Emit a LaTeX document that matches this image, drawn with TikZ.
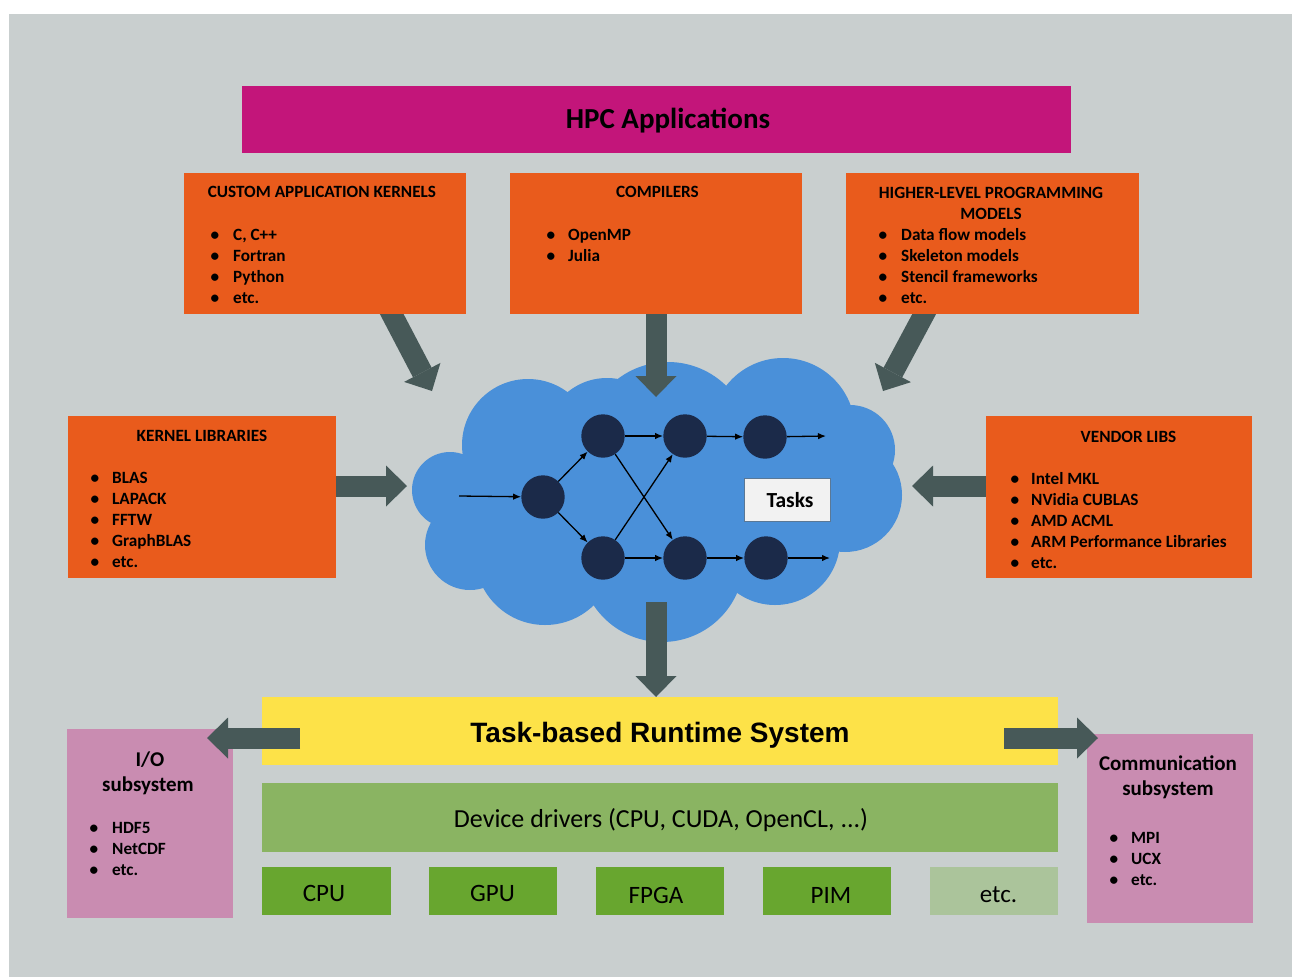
\documentclass[tikz,border=0pt]{standalone}
\usepackage{fontspec}
\setmainfont{Carlito}
\newfontfamily\arialf{Liberation Sans}
\usetikzlibrary{arrows.meta}

\definecolor{bgc}{RGB}{201,207,207}
\definecolor{magc}{RGB}{195,21,122}
\definecolor{orc}{RGB}{233,91,28}
\definecolor{cloudc}{RGB}{74,144,217}
\definecolor{navyc}{RGB}{27,42,73}
\definecolor{arrc}{RGB}{71,89,88}
\definecolor{yelc}{RGB}{253,226,72}
\definecolor{drvc}{RGB}{138,180,98}
\definecolor{hwc}{RGB}{104,166,47}
\definecolor{etcc}{RGB}{171,196,155}
\definecolor{pinkc}{RGB}{201,140,177}
\definecolor{taskbd}{RGB}{90,120,150}

\newcommand{\bitems}[5]{%
  \foreach \t [count=\i from 0] in {#5} {%
    \node[bul] (#1b\i) at (#2, {#4+21*\i}) {\textbullet};
    \node[itm] (#1t\i) at (#3, {#4+21*\i}) {\t};
  }}

\begin{document}
\begin{tikzpicture}[x=1pt,y=-1pt,
  box/.style={anchor=north west, inner sep=0, outer sep=0, draw=none},
  obox/.style={box, fill=orc},
  f17/.style={font=\bfseries\fontsize{17.2}{21}\selectfont},
  hd/.style={anchor=base, inner sep=0, f17},
  bul/.style={anchor=base, inner sep=0, f17},
  itm/.style={anchor=base west, inner sep=0, f17},
  sub/.style={anchor=base, inner sep=0, font=\bfseries\fontsize{21}{25}\selectfont},
  hw/.style={anchor=base, inner sep=0, font=\fontsize{25}{30}\selectfont},
  tnode/.style={circle, fill=navyc, minimum size=43.4, inner sep=0},
  tarrow/.style={draw=black, line width=1.3pt, -{Latex[length=8pt,width=6.5pt]}},
  bigarrow/.style={draw=arrc, line width=21pt, -{Triangle[length=21pt,width=41pt,line width=0pt]}},
]
\useasboundingbox (0,0) rectangle (1292,977);
\fill[bgc] (9,14) rectangle (1292,977);

% cloud (one path, union of puffs)
\fill[cloudc, nonzero rule]
  (450,490) circle (38)
  (528,445) circle (66)
  (607,440) circle (62)
  (668,445) circle (83)
  (783,430) circle (72)
  (850,450) circle (45)
  (845,495) circle (57)
  (775,540) circle (65)
  (662,560) circle (82)
  (545,555) circle (70)
  (470,545) circle (45)
  (505,500) circle (48)
  (650,490) circle (110);

% big arrows into cloud (drawn before boxes)
\coordinate (a1s) at (387,305); \coordinate (a1e) at (432,391);
\coordinate (a3s) at (929,305); \coordinate (a3e) at (883,391);
\coordinate (a2e) at (656,397);
\coordinate (a4s) at (330,486); \coordinate (a4e) at (407,486);
\coordinate (a5s) at (992,486); \coordinate (a5e) at (912,486);
\coordinate (a6s) at (656,602); \coordinate (a6e) at (656,697);
\draw[bigarrow] (a1s) -- (a1e);
\draw[bigarrow] (a3s) -- (a3e);
\draw[bigarrow] (656,305) -- (a2e);
\draw[bigarrow] (a4s) -- (a4e);
\draw[bigarrow] (a5s) -- (a5e);
\draw[bigarrow] (a6s) -- (a6e);

% title
\node[box, fill=magc, minimum width=829, minimum height=67] (hpc) at (242,86) {};
\node[anchor=base, inner sep=0, font=\bfseries\fontsize{29}{34}\selectfont] (hpct) at (668,128) {HPC Applications};

% orange boxes
\node[obox, minimum width=282, minimum height=141] (cak) at (184,173) {};
\node[hd] (cakh) at (322,197.5) {CUSTOM APPLICATION KERNELS};
\bitems{cak}{215}{233}{240}{{C, C++},Fortran,Python,etc.}

\node[obox, minimum width=292, minimum height=141] (comp) at (510,173) {};
\node[hd] (comph) at (657.5,197.5) {COMPILERS};
\bitems{comp}{551}{568}{240}{OpenMP,Julia}

\node[obox, minimum width=293, minimum height=141] (hlp) at (846,173) {};
\node[hd] (hlph1) at (991,198) {HIGHER-LEVEL PROGRAMMING};
\node[hd] (hlph2) at (991,219) {MODELS};
\bitems{hlp}{883}{901}{240}{Data flow models,Skeleton models,Stencil frameworks,etc.}

\node[obox, minimum width=268, minimum height=162] (kl) at (68,416) {};
\node[hd] (klh) at (202,441) {KERNEL LIBRARIES};
\bitems{kl}{95}{112}{483}{BLAS,LAPACK,FFTW,GraphBLAS,etc.}

\node[obox, minimum width=266, minimum height=162] (vl) at (986,416) {};
\node[hd] (vlh) at (1128.5,442) {VENDOR LIBS};
\bitems{vl}{1015}{1031}{484}{Intel MKL,NVidia CUBLAS,AMD ACML,ARM Performance Libraries,etc.}

% task graph
\node[tnode] (n1) at (543,497) {};
\node[tnode] (n2) at (603,436) {};
\node[tnode] (n3) at (603,558) {};
\node[tnode] (n4) at (685,436) {};
\node[tnode] (n5) at (685,558) {};
\node[tnode] (n6) at (765,437) {};
\node[tnode] (n7) at (766,558) {};
\coordinate (in) at (459,496);
\coordinate (o1) at (826,436);
\coordinate (o2) at (830,558);
\draw[tarrow] (in) -- (n1);
\draw[tarrow] (n1) -- (n2);
\draw[tarrow] (n1) -- (n3);
\draw[tarrow] (n2) -- (n4);
\draw[tarrow] (n2) -- (n5);
\draw[tarrow] (n3) -- (n4);
\draw[tarrow] (n3) -- (n5);
\draw[tarrow] (n4) -- (n6);
\draw[tarrow] (n5) -- (n7);
\draw[tarrow] (n6) -- (o1);
\draw[tarrow] (n7) -- (o2);
\node[box, fill=white!95!black, draw=taskbd, line width=0.8pt, minimum width=86, minimum height=43] (tasks) at (744,478) {};
\node[anchor=base, inner sep=0, font=\bfseries\fontsize{21.5}{26}\selectfont] (taskst) at (790,507) {Tasks};

% runtime layers
\node[box, fill=yelc, minimum width=796, minimum height=68] (rts) at (262,697) {};
\node[anchor=base, inner sep=0, font=\arialf\bfseries\fontsize{28}{34}\selectfont] (rtst) at (660,742) {Task-based Runtime System};
\node[box, fill=drvc, minimum width=796, minimum height=69] (drv) at (262,783) {};
\node[anchor=base, inner sep=0, font=\fontsize{26}{31}\selectfont] (drvt) at (661,827) {Device drivers (CPU, CUDA, OpenCL, ...)};

\node[box, fill=hwc, minimum width=129, minimum height=48] (cpu) at (262,867) {};
\node[hw] (cput) at (324,901) {CPU};
\node[box, fill=hwc, minimum width=128, minimum height=48] (gpu) at (429,867) {};
\node[hw] (gput) at (492.5,901) {GPU};
\node[box, fill=hwc, minimum width=128, minimum height=48] (fpga) at (596,867) {};
\node[hw] (fpgat) at (656,903) {FPGA};
\node[box, fill=hwc, minimum width=128, minimum height=48] (pim) at (763,867) {};
\node[hw] (pimt) at (831,903) {PIM};
\node[box, fill=etcc, minimum width=128, minimum height=48] (etcb) at (930,867) {};
\node[hw] (etct) at (998.5,902) {etc.};

% subsystems
\node[box, fill=pinkc, minimum width=166, minimum height=189] (io) at (67,729) {};
\node[sub] (ioh1) at (150,766) {I/O};
\node[sub] (ioh2) at (148,791) {subsystem};
\bitems{io}{94}{112}{833}{HDF5,NetCDF,etc.}

\node[box, fill=pinkc, minimum width=166, minimum height=189] (com) at (1087,734) {};
\node[sub] (comh1) at (1168,770) {Communication};
\node[sub] (comh2) at (1168,795) {subsystem};
\bitems{com}{1114}{1131}{843}{MPI,UCX,etc.}

% arrows from runtime
\coordinate (a7s) at (300,738); \coordinate (a7e) at (207,738);
\coordinate (a8s) at (1004,738); \coordinate (a8e) at (1098,738);
\draw[bigarrow] (a7s) -- (a7e);
\draw[bigarrow] (a8s) -- (a8e);
\end{tikzpicture}
\end{document}
